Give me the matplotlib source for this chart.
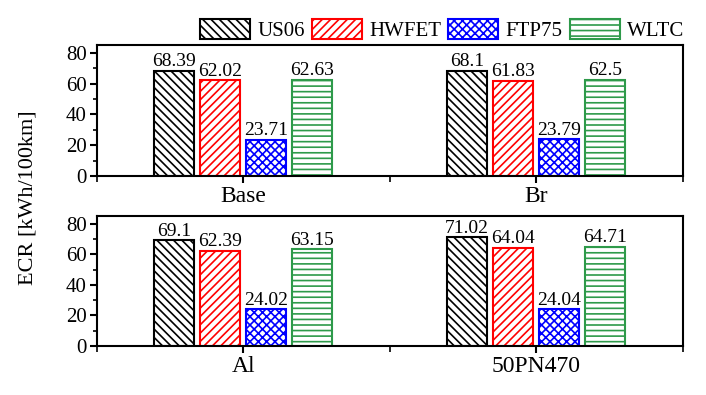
import numpy as np
import matplotlib
matplotlib.use('Agg')
import matplotlib.pyplot as plt
from matplotlib.ticker import MultipleLocator

plt.rcParams['font.family'] = ['Liberation Serif', 'DejaVu Serif']
plt.rcParams['hatch.linewidth'] = 1.2

cycles = ['US06', 'HWFET', 'FTP75', 'WLTC']
colors = ['black', 'red', 'blue', '#2e9a4a']
hatches = ['\\\\\\\\', '////', 'xxxx', '---']

top_groups = ['Base', 'Br']
bottom_groups = ['Al', '50PN470']
ecr_base = [68.39, 62.02, 23.71, 62.63]
ecr_br = [68.1, 61.83, 23.79, 62.5]
ecr_al = [69.1, 62.39, 24.02, 63.15]
ecr_50pn = [71.02, 64.04, 24.04, 64.71]
labels_base = ['68.39', '62.02', '23.71', '62.63']
labels_br = ['68.1', '61.83', '23.79', '62.5']
labels_al = ['69.1', '62.39', '24.02', '63.15']
labels_50pn = ['71.02', '64.04', '24.04', '64.71']

fig = plt.figure(figsize=(7.06, 3.95), dpi=100)
ax1 = fig.add_axes([0.137, 0.554, 0.830, 0.332])
ax2 = fig.add_axes([0.137, 0.124, 0.830, 0.329])

width = 0.135
step = 0.157


def draw(ax, groups, vals, labs):
    x = np.arange(1, len(groups) + 1)
    handles = []
    for i in range(len(cycles)):
        h = [v[i] for v in vals]
        pos = x + (i - 1.5) * step
        b = ax.bar(pos, h, width, facecolor='white', edgecolor=colors[i],
                   hatch=hatches[i], linewidth=1.5, label=cycles[i])
        for bar, t in zip(b, [l[i] for l in labs]):
            ax.text(bar.get_x() + bar.get_width() / 2, bar.get_height() + 0.5, t,
                    ha='center', va='bottom', fontsize=14)
        handles.append(b)
    ax.set_xlim(0.5, 2.5)
    ax.set_ylim(0, 85)
    ax.set_xticks(x)
    ax.set_xticklabels(groups, fontsize=17)
    ax.xaxis.set_minor_locator(MultipleLocator(0.5))
    ax.yaxis.set_major_locator(MultipleLocator(20))
    ax.yaxis.set_minor_locator(MultipleLocator(10))
    ax.tick_params(axis='y', labelsize=15, width=1.5, length=5, pad=2)
    ax.tick_params(axis='y', which='minor', width=1.2, length=3)
    ax.tick_params(axis='x', width=1.5, length=5, pad=2)
    ax.tick_params(axis='x', which='minor', width=1.2, length=4)
    for s in ax.spines.values():
        s.set_linewidth(1.5)
    return handles


hs = draw(ax1, top_groups, [ecr_base, ecr_br], [labels_base, labels_br])
draw(ax2, bottom_groups, [ecr_al, ecr_50pn], [labels_al, labels_50pn])

fig.legend(handles=hs, labels=cycles, loc='center left', bbox_to_anchor=(0.283, 0.924),
           ncol=4, frameon=False, fontsize=15, handlelength=2.4, handleheight=1.1,
           handletextpad=0.35, columnspacing=0.35, borderaxespad=0, borderpad=0)

fig.text(0.04, 0.5, 'ECR [kWh/100km]', rotation=90, va='center', ha='center', fontsize=16)

fig.savefig('out.png', dpi=100)
